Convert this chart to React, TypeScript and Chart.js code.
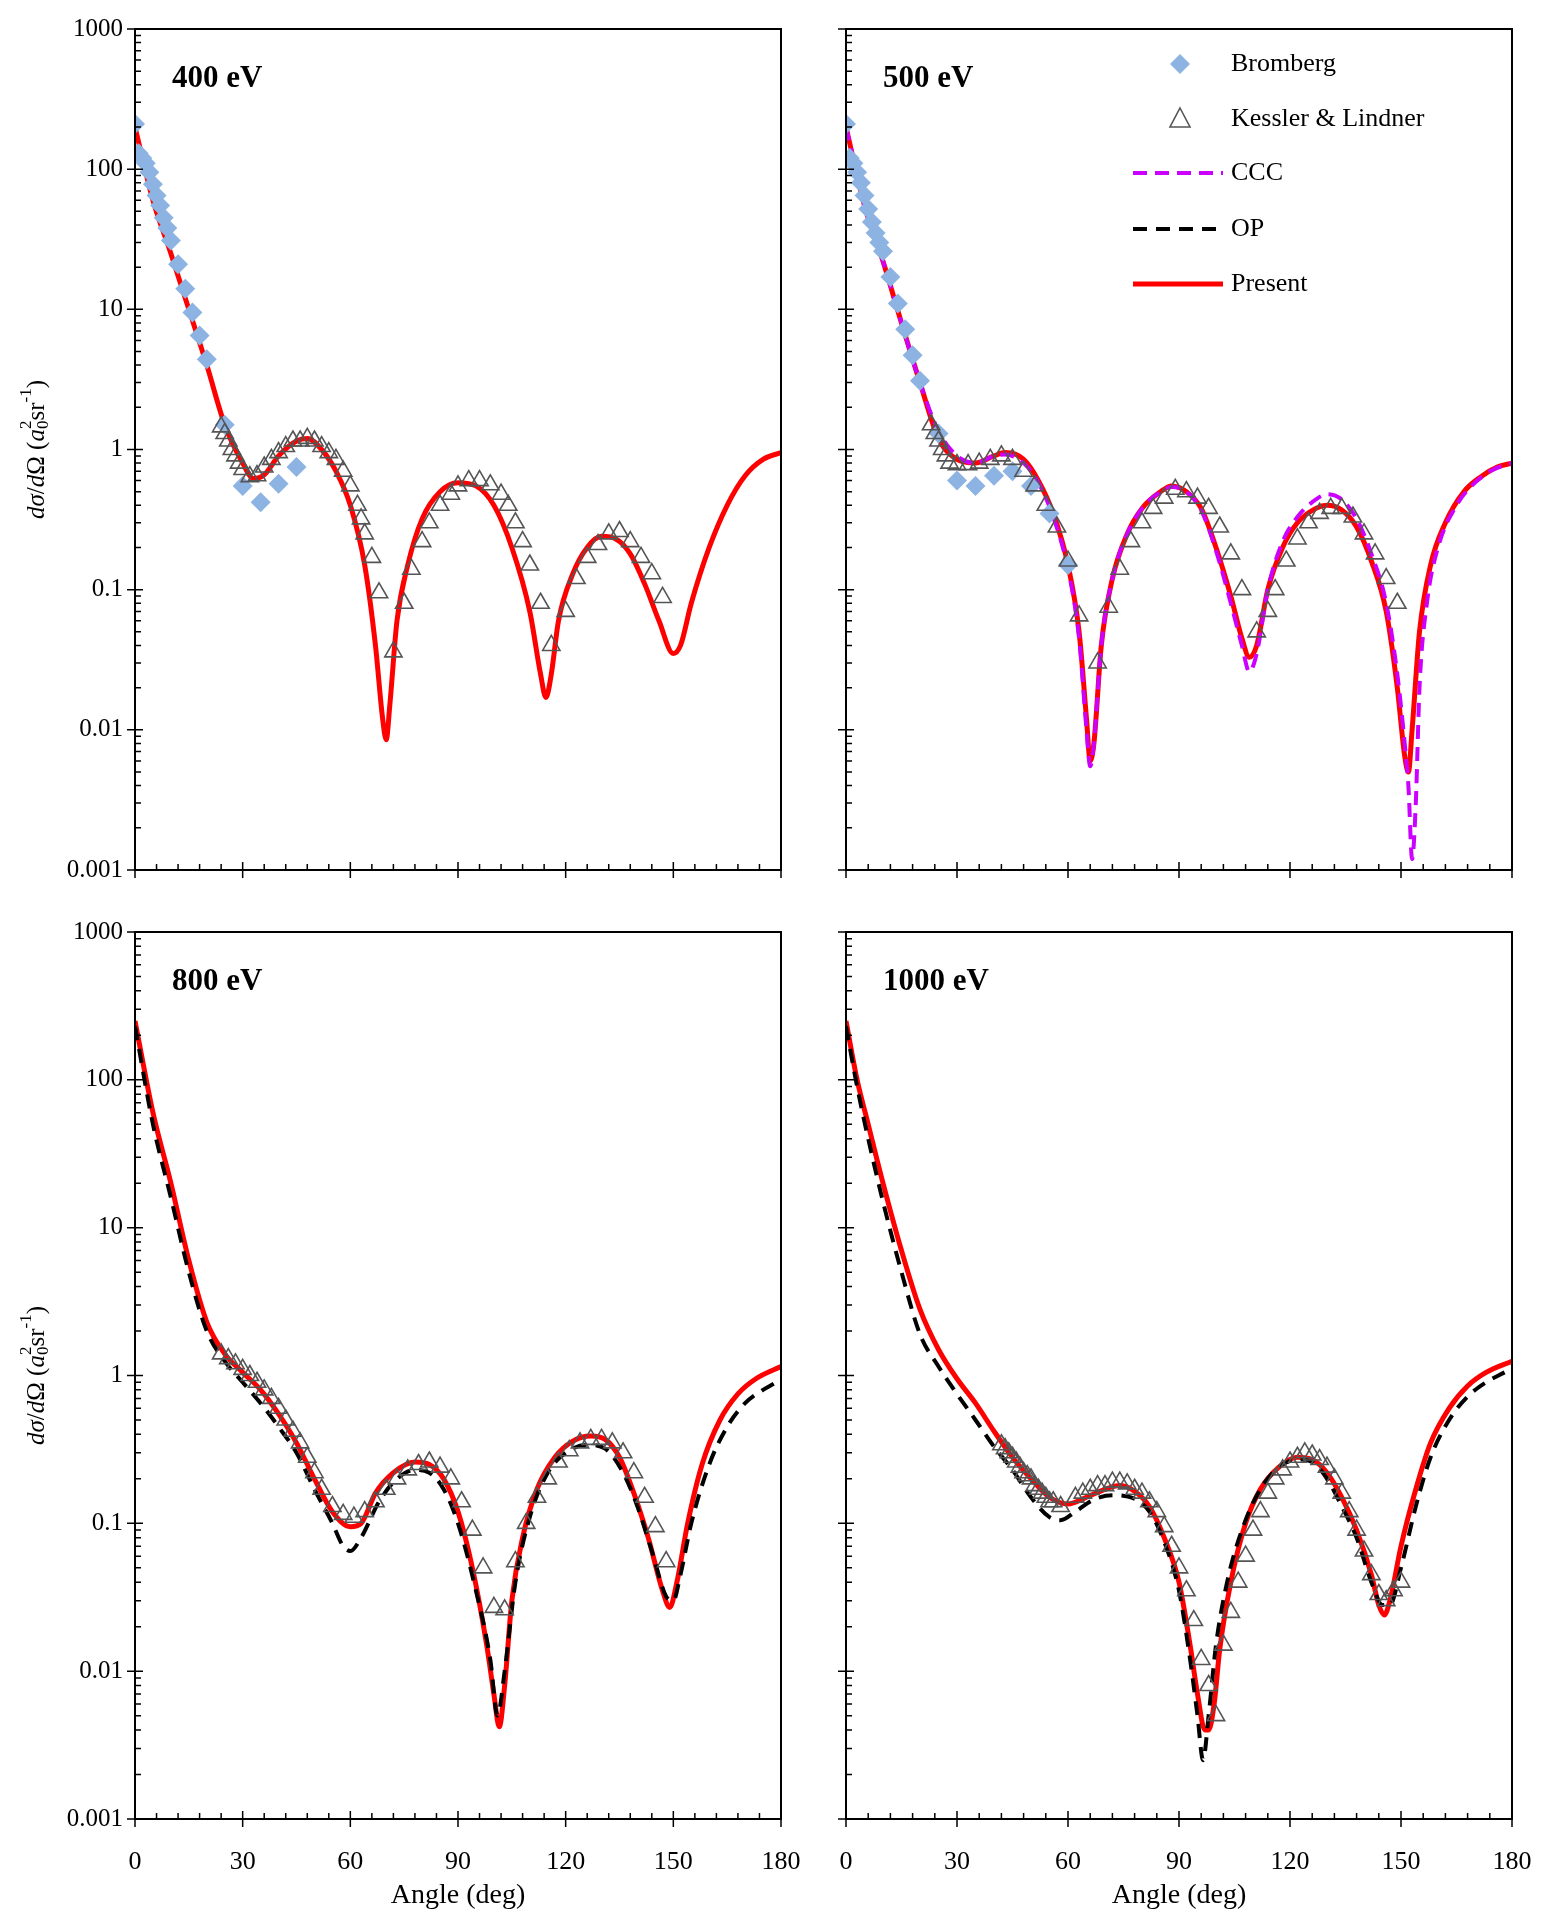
import React, { useEffect, useRef } from "react";
import { Chart, registerables } from "chart.js";
Chart.register(...registerables);

type P = [number, number][];

const yTickLabels = ["0.001", "0.01", "0.1", "1", "10", "100", "1000"];
const xTickLabels = ["0", "30", "60", "90", "120", "150", "180"];
const panelTitles = ["400 eV", "500 eV", "800 eV", "1000 eV"];
const legendLabels = ["Bromberg", "Kessler & Lindner", "CCC", "OP", "Present"];

const present400: P = [[0,200],[5,60],[10,25],[15,10],[20,4],[25,1.5],[30,0.8],[33,0.62],[36,0.66],[40,0.9],[45,1.15],[48,1.2],[52,1.0],[56,0.7],[60,0.4],[64,0.15],[67,0.04],[69,0.012],[70,0.0085],[71,0.015],[73,0.06],[76,0.15],[80,0.32],[85,0.5],[90,0.58],[95,0.55],[100,0.4],[105,0.2],[110,0.07],[113,0.025],[114.5,0.017],[116,0.025],[118,0.06],[122,0.13],[126,0.2],[130,0.24],[134,0.23],[138,0.18],[142,0.11],[146,0.06],[150,0.035],[152,0.04],[155,0.08],[160,0.2],[165,0.4],[170,0.65],[175,0.85],[180,0.95]];
const bromberg400: P = [[0,210],[1,130],[2,120],[3,110],[4,95],[5,78],[6,65],[7,55],[8,45],[9,38],[10,31],[12,21],[14,14],[16,9.5],[18,6.5],[20,4.4],[25,1.5],[30,0.55],[35,0.42],[40,0.57],[45,0.75]];
const kessler400: P = [[24,1.45],[25,1.3],[26,1.15],[27,1.0],[28,0.9],[29,0.8],[30,0.72],[32,0.64],[34,0.65],[36,0.75],[38,0.85],[40,0.95],[42,1.05],[44,1.15],[46,1.15],[48,1.2],[50,1.15],[52,1.05],[54,0.95],[56,0.85],[58,0.7],[60,0.55],[62,0.4],[63,0.32],[64,0.25],[66,0.17],[68,0.095],[72,0.036],[75,0.08],[77,0.14],[80,0.22],[82,0.3],[85,0.4],[88,0.48],[90,0.55],[93,0.6],[96,0.6],[99,0.56],[102,0.48],[104,0.4],[106,0.3],[108,0.22],[110,0.15],[113,0.08],[116,0.04],[120,0.07],[123,0.12],[126,0.17],[129,0.21],[132,0.25],[135,0.26],[138,0.22],[141,0.17],[144,0.13],[147,0.088]];

const present500: P = [[0,200],[5,55],[10,22],[15,8],[20,3],[25,1.2],[30,0.85],[35,0.8],[40,0.9],[43,0.95],[48,0.85],[52,0.6],[56,0.35],[60,0.15],[63,0.05],[65,0.012],[66,0.006],[67,0.008],[69,0.04],[72,0.12],[76,0.25],[80,0.38],[85,0.5],[88,0.55],[92,0.5],[96,0.38],[100,0.2],[104,0.09],[107,0.045],[109,0.033],[111,0.04],[114,0.1],[118,0.2],[122,0.3],[127,0.38],[130,0.4],[134,0.37],[138,0.28],[142,0.16],[146,0.07],[149,0.02],[151,0.0065],[152,0.005],[153,0.01],[155,0.05],[158,0.15],[162,0.3],[167,0.5],[172,0.65],[176,0.75],[180,0.8]];
const ccc500: P = [[0,200],[5,55],[10,22],[15,8],[20,3],[25,1.35],[30,0.9],[35,0.8],[40,0.9],[43,0.92],[48,0.8],[52,0.58],[56,0.33],[60,0.14],[63,0.045],[65,0.01],[66,0.0055],[67,0.008],[69,0.04],[72,0.12],[76,0.25],[80,0.38],[85,0.5],[88,0.54],[92,0.5],[96,0.37],[100,0.19],[104,0.08],[107,0.04],[109,0.026],[111,0.035],[114,0.1],[118,0.22],[122,0.33],[127,0.44],[130,0.48],[134,0.44],[138,0.32],[142,0.18],[146,0.08],[149,0.025],[151,0.008],[152,0.004],[153,0.0012],[154,0.003],[155,0.02],[157,0.08],[160,0.2],[165,0.4],[170,0.58],[175,0.72],[180,0.8]];
const bromberg500: P = [[0,210],[1,120],[2,110],[3,95],[4,80],[5,65],[6,52],[7,42],[8,35],[9,30],[10,26],[12,17],[14,11],[16,7.2],[18,4.7],[20,3.1],[25,1.3],[30,0.6],[35,0.55],[40,0.65],[45,0.7],[50,0.55],[55,0.35],[60,0.15]];
const kessler500: P = [[23,1.5],[24,1.3],[25,1.15],[26,1.0],[27,0.9],[28,0.8],[30,0.78],[33,0.78],[36,0.8],[39,0.85],[42,0.9],[45,0.85],[48,0.7],[51,0.55],[54,0.4],[57,0.28],[60,0.16],[63,0.065],[68,0.03],[71,0.075],[74,0.14],[77,0.22],[80,0.3],[83,0.38],[86,0.45],[89,0.52],[92,0.5],[95,0.45],[98,0.38],[101,0.28],[104,0.18],[107,0.1],[111,0.05],[114,0.07],[116,0.1],[119,0.16],[122,0.23],[125,0.3],[128,0.35],[131,0.38],[134,0.38],[137,0.33],[140,0.25],[143,0.18],[146,0.12],[149,0.08]];

const present800: P = [[0,250],[5,60],[10,20],[15,6],[20,2.3],[25,1.4],[30,1.05],[35,0.8],[40,0.55],[45,0.35],[50,0.2],[55,0.12],[60,0.095],[63,0.1],[67,0.16],[72,0.22],[78,0.26],[82,0.25],[86,0.2],[90,0.12],[94,0.05],[98,0.015],[100,0.007],[101.5,0.0042],[103,0.008],[105,0.03],[108,0.08],[112,0.17],[117,0.28],[122,0.36],[127,0.39],[131,0.37],[135,0.28],[139,0.16],[143,0.08],[147,0.035],[149,0.027],[151,0.04],[154,0.1],[158,0.25],[163,0.5],[168,0.75],[173,0.95],[180,1.15]];
const op800: P = [[0,230],[5,50],[10,16],[15,5],[20,2.0],[25,1.25],[30,0.9],[35,0.65],[40,0.45],[45,0.3],[50,0.17],[55,0.1],[58,0.07],[60,0.065],[63,0.08],[68,0.14],[73,0.2],[78,0.23],[82,0.22],[86,0.17],[90,0.1],[95,0.035],[99,0.012],[101,0.005],[103,0.01],[106,0.04],[110,0.11],[115,0.22],[120,0.3],[126,0.34],[131,0.32],[136,0.22],[140,0.13],[144,0.065],[148,0.032],[150,0.03],[152,0.045],[155,0.1],[160,0.25],[165,0.45],[170,0.65],[175,0.8],[178,0.88]];
const kessler800: P = [[24,1.4],[26,1.3],[28,1.2],[30,1.1],[32,1.0],[34,0.9],[36,0.8],[38,0.7],[40,0.6],[42,0.5],[44,0.42],[46,0.35],[48,0.28],[50,0.22],[52,0.17],[55,0.13],[58,0.115],[61,0.11],[64,0.12],[67,0.14],[70,0.17],[73,0.2],[76,0.23],[79,0.25],[82,0.26],[85,0.24],[88,0.2],[91,0.14],[94,0.09],[97,0.05],[100,0.027],[103,0.026],[106,0.055],[109,0.1],[112,0.15],[115,0.2],[118,0.26],[121,0.31],[124,0.35],[127,0.37],[130,0.37],[133,0.35],[136,0.3],[139,0.22],[142,0.15],[145,0.095],[148,0.055]];

const present1000: P = [[0,250],[3,100],[6,50],[10,20],[15,7],[20,2.8],[25,1.5],[30,0.95],[35,0.65],[40,0.42],[45,0.28],[50,0.2],[55,0.15],[60,0.135],[65,0.15],[70,0.17],[74,0.18],[78,0.165],[82,0.13],[86,0.08],[90,0.04],[93,0.015],[95,0.007],[97,0.004],[98,0.004],[99.5,0.006],[101,0.014],[104,0.04],[108,0.1],[112,0.17],[117,0.24],[122,0.28],[126,0.27],[130,0.22],[134,0.15],[138,0.09],[142,0.045],[144,0.028],[145.5,0.024],[147,0.03],[150,0.07],[154,0.17],[158,0.35],[163,0.6],[168,0.85],[173,1.05],[180,1.25]];
const op1000: P = [[0,230],[3,90],[6,40],[10,15],[15,5],[20,1.9],[25,1.15],[30,0.75],[35,0.5],[40,0.33],[45,0.23],[50,0.15],[55,0.11],[58,0.105],[62,0.12],[67,0.145],[72,0.155],[77,0.15],[82,0.12],[86,0.075],[90,0.035],[93,0.012],[95,0.005],[96.5,0.0025],[98,0.005],[100,0.015],[103,0.04],[107,0.09],[112,0.17],[117,0.24],[122,0.27],[126,0.26],[130,0.2],[134,0.13],[138,0.08],[142,0.04],[145,0.028],[147,0.028],[150,0.05],[154,0.13],[158,0.28],[163,0.5],[168,0.72],[173,0.9],[178,1.05]];
const kessler1000: P = [[42,0.34],[43,0.32],[44,0.3],[45,0.28],[46,0.26],[47,0.24],[48,0.22],[49,0.21],[50,0.2],[51,0.18],[52,0.17],[53,0.16],[54,0.15],[55,0.14],[56,0.14],[58,0.13],[62,0.15],[64,0.16],[66,0.17],[68,0.18],[70,0.18],[72,0.19],[74,0.19],[76,0.185],[78,0.17],[80,0.16],[82,0.14],[84,0.12],[86,0.095],[88,0.07],[90,0.05],[92,0.035],[94,0.022],[96,0.012],[98,0.008],[100,0.005],[102,0.015],[104,0.025],[106,0.04],[108,0.06],[110,0.09],[112,0.12],[114,0.16],[116,0.2],[118,0.23],[120,0.26],[122,0.28],[124,0.3],[126,0.29],[128,0.27],[130,0.24],[132,0.2],[134,0.16],[136,0.12],[138,0.09],[140,0.065],[142,0.045],[144,0.033],[146,0.03],[148,0.035],[150,0.04]];

const W = 1555, H = 1928;
const SERIF = "'Liberation Serif', 'DejaVu Serif', serif";
const RED = "#ff0000", MAG = "#cc00ff", BLUE = "#8db3e2", TRI = "#555555";

const toXY = (p: P) => p.map(([x, y]) => ({ x, y }));

function lineDs(p: P, color: string, dash: number[], width: number) {
  return { type: "line", data: toXY(p), borderColor: color, borderWidth: width, borderDash: dash, pointRadius: 0, fill: false, cubicInterpolationMode: "monotone", showLine: true };
}
function diamondDs(p: P) {
  return { type: "scatter", data: toXY(p), pointStyle: "rectRot", pointRadius: 10, backgroundColor: BLUE, borderColor: BLUE, borderWidth: 0, showLine: false };
}
function triDs(p: P) {
  return { type: "scatter", data: toXY(p), pointStyle: "triangle", pointRadius: 10, backgroundColor: "rgba(0,0,0,0)", borderColor: TRI, borderWidth: 1.6, showLine: false };
}

interface Panel { L: number; R: number; T: number; B: number; title: string; datasets: any[]; leftAxis: boolean; bottomAxis: boolean; legend: boolean; }

const panels: Panel[] = [
  { L: 135, R: 781, T: 29, B: 870, title: panelTitles[0], leftAxis: true, bottomAxis: false, legend: false,
    datasets: [triDs(kessler400), diamondDs(bromberg400), lineDs(present400, RED, [], 5)] },
  { L: 846, R: 1512, T: 29, B: 870, title: panelTitles[1], leftAxis: false, bottomAxis: false, legend: true,
    datasets: [triDs(kessler500), diamondDs(bromberg500), lineDs(ccc500, MAG, [14, 8], 4), lineDs(present500, RED, [], 5)] },
  { L: 135, R: 781, T: 932, B: 1819, title: panelTitles[2], leftAxis: true, bottomAxis: true, legend: false,
    datasets: [triDs(kessler800), lineDs(op800, "#000", [14, 9], 4), lineDs(present800, RED, [], 5)] },
  { L: 846, R: 1512, T: 932, B: 1819, title: panelTitles[3], leftAxis: false, bottomAxis: true, legend: false,
    datasets: [triDs(kessler1000), lineDs(op1000, "#000", [14, 9], 4), lineDs(present1000, RED, [], 5)] },
];

function drawYTitle(ctx: CanvasRenderingContext2D, cx: number, cy: number) {
  const parts: [string, string, number][] = [
    ["d", "italic 25px " + SERIF, 0], ["σ", "italic 25px " + SERIF, 0], ["/", "25px " + SERIF, 0],
    ["d", "italic 25px " + SERIF, 0], ["Ω", "25px " + SERIF, 0], [" (", "25px " + SERIF, 0],
    ["a", "italic 25px " + SERIF, 0], ["0", "17px " + SERIF, 7], ["2", "17px " + SERIF, -10],
    ["sr", "25px " + SERIF, 0], ["-1", "17px " + SERIF, -10], [")", "25px " + SERIF, 0],
  ];
  ctx.save();
  ctx.translate(cx, cy);
  ctx.rotate(-Math.PI / 2);
  let total = 0;
  const widths = parts.map(([t, f], i) => { ctx.font = f; let w = ctx.measureText(t).width; if (i === 7) w = 0; total += w; return w; });
  let x = -total / 2;
  ctx.fillStyle = "#000";
  ctx.textBaseline = "middle";
  ctx.textAlign = "left";
  parts.forEach(([t, f, dy], i) => { ctx.font = f; ctx.fillText(t, x, dy); x += widths[i]; });
  ctx.restore();
}

function makePlugin(p: Panel) {
  return {
    id: "frame",
    afterDraw(chart: any) {
      const ctx: CanvasRenderingContext2D = chart.ctx;
      const xs = chart.scales.x, ys = chart.scales.y;
      const { left, right, top, bottom } = chart.chartArea;
      ctx.save();
      ctx.strokeStyle = "#000";
      ctx.lineWidth = 2;
      ctx.strokeRect(left, top, right - left, bottom - top);
      ctx.lineWidth = 1.5;
      ctx.beginPath();
      for (let e = -3; e <= 3; e++) {
        const v = Math.pow(10, e);
        const py = ys.getPixelForValue(v);
        ctx.moveTo(left - 8, py); ctx.lineTo(left + 8, py);
        if (e < 3) for (let m = 2; m <= 9; m++) { const q = ys.getPixelForValue(m * v); ctx.moveTo(left, q); ctx.lineTo(left + 6, q); }
      }
      for (let a = 0; a <= 180; a += 6) {
        const px = xs.getPixelForValue(a);
        if (a % 30 === 0) { ctx.moveTo(px, bottom + 8); ctx.lineTo(px, bottom - 8); }
        else { ctx.moveTo(px, bottom); ctx.lineTo(px, bottom - 6); }
      }
      ctx.stroke();
      ctx.fillStyle = "#000";
      if (p.leftAxis) {
        ctx.font = "25px " + SERIF;
        ctx.textAlign = "right"; ctx.textBaseline = "middle";
        yTickLabels.forEach((t) => ctx.fillText(t, left - 12, ys.getPixelForValue(parseFloat(t))));
        drawYTitle(ctx, 37, (top + bottom) / 2);
      }
      if (p.bottomAxis) {
        ctx.font = "26px " + SERIF;
        ctx.textAlign = "center"; ctx.textBaseline = "alphabetic";
        xTickLabels.forEach((t) => ctx.fillText(t, xs.getPixelForValue(parseFloat(t)), bottom + 50));
        ctx.font = "28px " + SERIF;
        ctx.fillText("Angle (deg)", (left + right) / 2, bottom + 84);
      }
      ctx.font = "600 31px " + SERIF;
      ctx.textAlign = "left"; ctx.textBaseline = "alphabetic";
      ctx.fillText(p.title, left + 37, top + 58);
      if (p.legend) {
        ctx.font = "26px " + SERIF;
        ctx.textBaseline = "middle";
        const tx = 1231;
        const rows = [64, 119, 173, 229, 284];
        // diamond
        ctx.fillStyle = BLUE;
        ctx.beginPath(); ctx.moveTo(1180, rows[0] - 10); ctx.lineTo(1190, rows[0]); ctx.lineTo(1180, rows[0] + 10); ctx.lineTo(1170, rows[0]); ctx.closePath(); ctx.fill();
        // triangle
        ctx.strokeStyle = TRI; ctx.lineWidth = 1.6;
        ctx.beginPath(); ctx.moveTo(1180, rows[1] - 11); ctx.lineTo(1190, rows[1] + 8); ctx.lineTo(1170, rows[1] + 8); ctx.closePath(); ctx.stroke();
        const lines: [string, number[], number][] = [[MAG, [14, 8], 4], ["#000", [14, 9], 4], [RED, [], 5]];
        lines.forEach(([c, d, w], i) => {
          ctx.strokeStyle = c; ctx.lineWidth = w; ctx.setLineDash(d);
          ctx.beginPath(); ctx.moveTo(1133, rows[i + 2]); ctx.lineTo(1223, rows[i + 2]); ctx.stroke();
        });
        ctx.setLineDash([]);
        ctx.fillStyle = "#000";
        legendLabels.forEach((t, i) => ctx.fillText(t, tx, rows[i]));
      }
      ctx.restore();
    },
  };
}

function PanelChart({ p }: { p: Panel }) {
  const ref = useRef<HTMLCanvasElement>(null);
  useEffect(() => {
    const chart = new Chart(ref.current as HTMLCanvasElement, {
      type: "scatter",
      data: { datasets: p.datasets as any },
      options: {
        responsive: false,
        animation: false,
        devicePixelRatio: 1,
        layout: { padding: { left: p.L, right: W - p.R, top: p.T, bottom: H - p.B } },
        plugins: { legend: { display: false }, tooltip: { enabled: false } },
        scales: {
          x: { type: "linear", min: 0, max: 180, display: false },
          y: { type: "logarithmic", min: 0.001, max: 1000, display: false },
        },
      } as any,
      plugins: [makePlugin(p)],
    });
    return () => chart.destroy();
  }, []);
  return <canvas ref={ref} width={W} height={H} style={{ position: "absolute", left: 0, top: 0, width: W, height: H }} />;
}

export default function App() {
  return (
    <div style={{ position: "absolute", left: 0, top: 0, width: W, height: H, background: "#fff" }}>
      {panels.map((p, i) => <PanelChart key={i} p={p} />)}
    </div>
  );
}
